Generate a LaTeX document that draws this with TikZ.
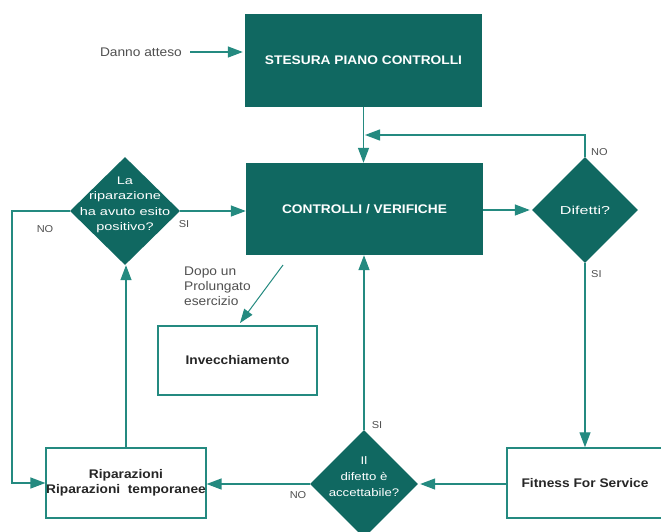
\documentclass[tikz,border=0pt]{standalone}
\usepackage{fontspec}
\setmainfont{Liberation Sans}
\newfontfamily\fA[FakeStretch=1.1]{Liberation Sans}
\newfontfamily\fB[FakeStretch=1.32]{Liberation Sans}
\newfontfamily\fD[FakeStretch=1.4]{Liberation Sans}
\newfontfamily\fC[FakeStretch=1.2]{Liberation Sans}
\usetikzlibrary{shapes.geometric,arrows.meta}
\definecolor{tealfill}{RGB}{16,104,97}
\definecolor{tealline}{RGB}{36,138,128}
\definecolor{labgray}{RGB}{80,80,80}
\begin{document}
\begin{tikzpicture}[x=1pt,y=-1pt,
  darkbox/.style={fill=tealfill, draw=none, minimum width=237pt, minimum height=93pt, inner sep=0pt, text=white, font=\fA\fontsize{12.5pt}{15pt}\selectfont\bfseries},
  whitebox/.style={draw=tealline, line width=1.5pt, fill=white, inner sep=0pt, text=black!85, align=center, font=\fA\fontsize{12.5pt}{15pt}\selectfont\bfseries},
  dia/.style={diamond, fill=tealfill, draw=none, inner sep=0pt},
  ditextB/.style={text=white, align=center, inner sep=0pt, font=\fB\fontsize{11pt}{15.5pt}\selectfont},
  ditextD/.style={text=white, align=center, inner sep=0pt, font=\fD\fontsize{11.5pt}{15pt}\selectfont},
  ditextC/.style={text=white, align=center, inner sep=0pt, font=\fC\fontsize{11pt}{16pt}\selectfont},
  lab/.style={text=labgray, inner sep=0pt, font=\fA\fontsize{12.5pt}{15pt}\selectfont},
  yn/.style={text=labgray, inner sep=0pt, font=\fA\fontsize{10pt}{12pt}\selectfont},
  conn/.style={draw=tealline, line width=1.3pt, -{Triangle[length=15pt,width=11pt]}},
  thinconn/.style={draw=tealline, line width=1pt, -{Triangle[length=14pt,width=10pt]}}
]
\useasboundingbox (0,0) rectangle (661,531);
\fill[white] (0,0) rectangle (661,531);
\clip (0,0) rectangle (661,531);

% main boxes
\node[darkbox] (ste) at (363.5,60) {STESURA PIANO CONTROLLI};
\node[darkbox, minimum height=92pt] (ctl) at (364.5,209) {CONTROLLI / VERIFICHE};

% diamonds
\node[dia, minimum width=106pt, minimum height=106pt] (dif) at (585,210) {};
\node[ditextD] (dift) at (dif) {Difetti?};
\node[dia, minimum width=110pt, minimum height=108pt] (rip) at (125,211) {};
\node[ditextB] (ript) at (125,205) {La\\riparazione\\ha avuto esito\\positivo?};
\node[dia, minimum width=108pt, minimum height=108pt] (acc) at (364,484) {};
\node[ditextC] (acct) at (364,477) {Il\\difetto è\\accettabile?};

% white boxes
\node[whitebox, minimum width=159pt, minimum height=69pt] (inv) at (237.5,360.5) {Invecchiamento};
\node[whitebox, minimum width=158pt, minimum height=70pt] (riparaz) at (126,483) {Riparazioni\\Riparazioni\ \ temporanee};
\node[whitebox, minimum width=156pt, minimum height=70pt] (ffs) at (585,483) {Fitness For Service};

% labels
\node[lab, anchor=east] (danno) at (182,52) {Danno atteso};
\node[lab, anchor=north west, align=left] (dopo) at (184,267) {Dopo un\\Prolungato\\esercizio};
\node[yn, anchor=west] (no1) at (591,152) {NO};
\node[yn, anchor=west] (si1) at (591,274) {SI};
\node[yn] (no2) at (45,229) {NO};
\node[yn] (si2) at (184,224) {SI};
\node[yn] (si3) at (377,425) {SI};
\node[yn] (no3) at (298,495) {NO};

% coordinates
\coordinate (loopy) at (365,135);
\coordinate (lc) at (12,211);
\coordinate (dg1) at (283,265);
\coordinate (dg2) at (240,323);

% connectors
\draw[conn] ([xshift=8pt]danno.east) -- ([xshift=-2pt]ste.west |- danno.east);
\draw[conn] (ste.south) -- (ste.south |- ctl.north);
\draw[conn] (dif.north) |- (loopy);
\draw[conn] (ctl.east |- dif.west) -- ([xshift=-2pt]dif.west);
\draw[conn] (dif.south) -- (ffs.north);
\draw[conn] (ffs.west |- acc.east) -- ([xshift=2pt]acc.east);
\draw[conn] (acc.north) -- (acc.north |- ctl.south);
\draw[conn] (acc.west) -- (riparaz.east |- acc.west);
\draw[conn] (riparaz.north) -- (riparaz.north |- rip.south);
\draw[conn] (rip.east) -- (ctl.west |- rip.east);
\draw[conn] (rip.west) -- (lc) |- (riparaz.west);
\draw[thinconn] (dg1) -- (dg2);
\end{tikzpicture}
\end{document}
